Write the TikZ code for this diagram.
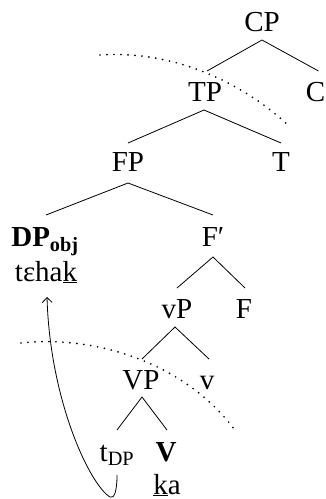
\documentclass[tikz,border=0pt]{standalone}
\usepackage{fontspec}
\setmainfont{Liberation Serif}
\usetikzlibrary{arrows.meta,calc}
\begin{document}
\begin{tikzpicture}[x=1pt,y=-1pt,
  lab/.style={anchor=base,inner sep=0pt,font=\fontsize{29}{34}\selectfont},
  edge/.style={line width=0.8pt},
  dotarc/.style={line width=1.9pt,line cap=round,dash pattern=on 0pt off 7pt},
  move/.style={line width=0.8pt,-{Straight Barb[length=5pt,width=10pt]}}]
\useasboundingbox (0,0) rectangle (326,499);
% nodes
\node[lab] (CP) at (262,31) {CP};
\node[lab] (TP) at (205,101) {TP};
\node[lab] (C) at (315.5,101) {C};
\node[lab] (FP) at (128,171) {FP};
\node[lab] (T) at (281,171) {T};
\node[lab] (DP) at (45,246) {\textbf{DP}\textsubscript{\textbf{obj}}};
\node[lab] (teh) at (46,281) {tɛha\underline{k}};
\node[lab] (Fbar) at (213,246) {F′};
\node[lab] (vP) at (177,318) {vP};
\node[lab] (F) at (244,318) {F};
\node[lab] (VP) at (141,389) {VP};
\node[lab] (v) at (207,389) {v};
\node[lab] (tDP) at (117,461) {t\textsubscript{DP}};
\node[lab] (V) at (166,461) {\textbf{V}};
\node[lab] (ka) at (167,494) {\underline{k}a};
% edges
\draw[edge] ($(TP.base)+(2,-30)$) -- ($(CP.base)+(0,9)$) -- ($(C.base)+(3,-30)$);
\draw[edge] ($(FP.base)+(0,-28)$) -- ($(TP.base)+(-1,9)$) -- ($(T.base)+(0,-28)$);
\draw[edge] ($(DP.base)+(1,-31)$) -- ($(FP.base)+(0,12)$) -- ($(Fbar.base)+(0,-31)$);
\draw[edge] ($(vP.base)+(0,-30)$) -- ($(Fbar.base)+(0,11)$) -- ($(F.base)+(1,-30)$);
\draw[edge] ($(VP.base)+(1,-30)$) -- ($(vP.base)+(-2,9)$) -- ($(v.base)+(2,-30)$);
\draw[edge] ($(tDP.base)+(0,-31)$) -- ($(VP.base)+(1,8)$) -- ($(V.base)+(1,-31)$);
% dotted arcs
\draw[dotarc] (100,55) .. controls (170,50) and (240,80) .. (289,126);
\draw[dotarc] (21,343) .. controls (90,335) and (185,360) .. (237,433);
% movement arrow
\draw[move] ($(tDP.base)+(0,14)$) .. controls ($(tDP.base)+(0,31)$) and ($(tDP.base)+(-3,38)$) .. ($(tDP.base)+(-7,36)$)
  .. controls ($(tDP.base)+(-27,24)$) and ($(teh.base)+(4,120)$) .. ($(teh.base)+(1,16)$);
\end{tikzpicture}
\end{document}
